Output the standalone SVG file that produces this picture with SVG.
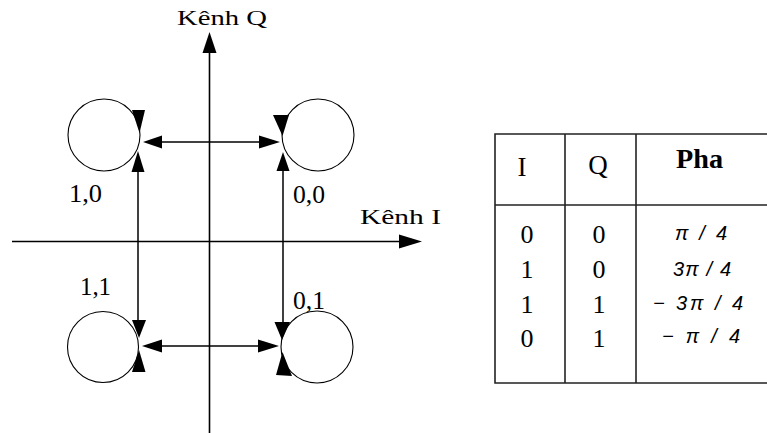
<svg xmlns="http://www.w3.org/2000/svg" width="767" height="433" viewBox="0 0 767 433">
<style>
.ax{stroke:#000;stroke-width:1.6;fill:none}
.ln{stroke:#000;stroke-width:1.5;fill:none}
.cir{stroke:#000;stroke-width:1.1;fill:none}
.ah{fill:#000;stroke:none}
.lbl{font-family:"Liberation Serif","Times New Roman",serif;font-size:22px;fill:#000}
.num{font-family:"Liberation Serif","Times New Roman",serif;font-size:26px;fill:#000}
.hd{font-family:"Liberation Serif","Times New Roman",serif;font-size:27px;fill:#000}
.pha{font-family:"Liberation Serif","Times New Roman",serif;font-size:27px;font-weight:bold;fill:#000}
.ph{font-family:"Liberation Sans",Arial,sans-serif;font-size:20px;font-style:italic;fill:#000}
.tb{stroke:#222;stroke-width:1.6;fill:none}
</style>
<rect width="767" height="433" fill="#fff"/>

<g id="axes">
  <line class="ax" x1="12" y1="241.5" x2="402" y2="241.5"/>
  <polygon class="ah" points="422,241.5 399,234.5 399,248.5"/>
  <line class="ax" x1="209.5" y1="433" x2="209.5" y2="50"/>
  <polygon class="ah" points="209.5,32 202.5,53 216.5,53"/>
  <text class="lbl" x="177" y="25" textLength="90" lengthAdjust="spacingAndGlyphs">Kênh Q</text>
  <text class="lbl" x="360" y="224" textLength="81" lengthAdjust="spacingAndGlyphs">Kênh I</text>
</g>

<g id="node-10">
  <circle class="cir" cx="104" cy="135" r="36"/>
  <polygon class="ah" points="132,110 145,110 139.5,133"/>
  <text class="num" x="69" y="202" textLength="33" lengthAdjust="spacingAndGlyphs">1,0</text>
</g>
<g id="node-00">
  <circle class="cir" cx="318" cy="135" r="36"/>
  <polygon class="ah" points="273,115 289,115 282.5,136"/>
  <text class="num" x="293" y="203" textLength="32" lengthAdjust="spacingAndGlyphs">0,0</text>
</g>
<g id="node-11">
  <circle class="cir" cx="103" cy="347" r="35.5"/>
  <polygon class="ah" points="139,350 132,372 145.5,372"/>
  <text class="num" x="80" y="295" textLength="31" lengthAdjust="spacingAndGlyphs">1,1</text>
</g>
<g id="node-01">
  <circle class="cir" cx="317" cy="347" r="36"/>
  <polygon class="ah" points="282.5,352 276,375 292,376"/>
  <text class="num" x="293" y="309" textLength="32" lengthAdjust="spacingAndGlyphs">0,1</text>
</g>

<g id="connectors">
  <line class="ln" x1="160" y1="142" x2="261" y2="142"/>
  <polygon class="ah" points="143,142 162,135.5 162,148.5"/>
  <polygon class="ah" points="280,142 259,135.5 259,148.5"/>
  <line class="ln" x1="160" y1="346" x2="260" y2="346"/>
  <polygon class="ah" points="142,346 162,339.5 162,352.5"/>
  <polygon class="ah" points="279,346 258,339.5 258,352.5"/>
  <line class="ln" x1="138" y1="170" x2="138" y2="322"/>
  <polygon class="ah" points="138,151 131.5,172 144.5,172"/>
  <polygon class="ah" points="139,338 132,320 146,320"/>
  <line class="ln" x1="283" y1="169" x2="283" y2="324"/>
  <polygon class="ah" points="283,152 276.5,171 289.5,171"/>
  <polygon class="ah" points="282,340 274.5,322 290,322"/>
</g>

<g id="table">
  <polyline class="tb" points="767,134 495,134 495,383 767,383"/>
  <line class="tb" x1="495" y1="205" x2="767" y2="205"/>
  <line class="tb" x1="565" y1="134" x2="565" y2="383"/>
  <line class="tb" x1="636" y1="134" x2="636" y2="383"/>
  <text class="hd" x="522" y="176" text-anchor="middle">I</text>
  <text class="hd" x="598" y="174" text-anchor="middle">Q</text>
  <text class="pha" x="676" y="168" textLength="47" lengthAdjust="spacingAndGlyphs">Pha</text>
  <g text-anchor="middle">
    <text class="num" x="527" y="243">0</text>
    <text class="num" x="527" y="278">1</text>
    <text class="num" x="527" y="313">1</text>
    <text class="num" x="527" y="347">0</text>
    <text class="num" x="599" y="243">0</text>
    <text class="num" x="599" y="278">0</text>
    <text class="num" x="599" y="313">1</text>
    <text class="num" x="599" y="347">1</text>
  </g>
  <text class="ph" x="675" y="240" textLength="52" lengthAdjust="spacing">π / 4</text>
  <text class="ph" x="673" y="276" textLength="58" lengthAdjust="spacing">3π / 4</text>
  <text class="ph" x="653" y="310" textLength="90" lengthAdjust="spacing">− 3π / 4</text>
  <text class="ph" x="662" y="343" textLength="78" lengthAdjust="spacing">− π / 4</text>
</g>
</svg>
